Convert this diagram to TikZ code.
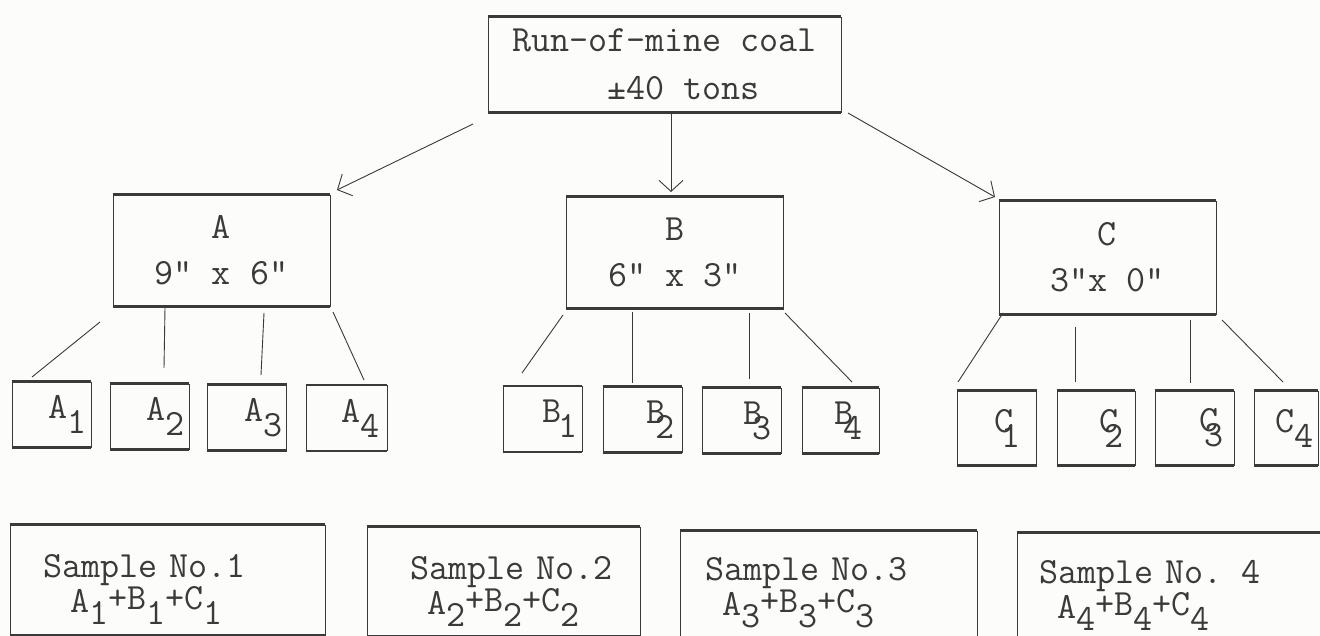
\documentclass[tikz,border=0pt]{standalone}
\usepackage{fontspec}
\usetikzlibrary{arrows.meta}
\definecolor{ink}{HTML}{3A3A3A}
\definecolor{paper}{HTML}{FCFCFA}
\newcommand{\dn}[1]{\raisebox{-15pt}{#1}}
\newcommand{\sdn}[1]{\raisebox{-12pt}{#1}}
\newcommand{\upr}[1]{\raisebox{3pt}{#1}}
\begin{document}
\begin{tikzpicture}[x=1pt,y=-1pt,
  tt/.style={font=\ttfamily\fontsize{37}{46}\selectfont, text=ink},
  box/.style={tt, draw=ink, line width=0.9pt, inner sep=0pt},
  topbox/.style={box, minimum width=353pt, minimum height=95pt, align=left, font=\ttfamily\fontsize{37}{48}\selectfont},
  bigbox/.style={box, minimum width=217pt, minimum height=111pt, align=center},
  smallbox/.style={box, minimum width=#1, minimum height=65pt, text width=#1-8pt, inner xsep=4pt, align=right},
  smallbox/.default=79pt,
  samplebox/.style={box, text width=#1, align=left, font=\ttfamily\fontsize{37}{35}\selectfont},
  hedge/.style={draw=ink, line width=2.2pt},
  link/.style={draw=ink, line width=0.9pt},
  arr/.style={draw=ink, line width=0.9pt, -{Straight Barb[length=11pt,width=24pt]}}
]
\path[use as bounding box] (0,0) rectangle (1320,636);
\clip (0,0) rectangle (1320,636);
\fill[paper] (0,0) rectangle (1320,636);

% top
\node[topbox] (top) at (664.5,64.5) {Run-of-mine coal\\\phantom{Run-o}±40 tons};

% size fractions
\node[bigbox] (A) at (221.5,250.5) {A\\9" x 6"};
\node[bigbox] (B) at (675,252.5) {B\\6" x 3"};
\node[bigbox, minimum height=113pt] (C) at (1107.5,257.5) {C\\3"x 0"};

% increments
\node[smallbox] (A1) at (51.5,414.5) {A\dn{1}};
\node[smallbox] (A2) at (149.5,416.5) {A\dn{2}};
\node[smallbox] (A3) at (247,417.5) {A\dn{3}};
\node[smallbox=81pt] (A4) at (346.5,418) {A\dn{4}\hspace*{3pt}};
\node[smallbox] (B1) at (542.5,419) {B\kern-3pt\dn{1}};
\node[smallbox] (B2) at (642.5,419.5) {B\kern-10pt\dn{2}\hspace*{3pt}};
\node[smallbox] (B3) at (741.5,420.5) {B\kern-10pt\dn{3}\hspace*{5pt}};
\node[smallbox=77pt] (B4) at (840.5,420.5) {B\kern-10pt\dn{4}\hspace*{12pt}};
\node[smallbox, minimum height=74pt] (C1) at (997,428) {C\kern-12pt\dn{1}\hspace*{12pt}};
\node[smallbox=78pt, minimum height=74pt] (C2) at (1096,428) {C\kern-14pt\dn{2}\hspace*{7pt}};
\node[smallbox, minimum height=74pt] (C3) at (1194.5,428) {C\kern-14pt\dn{3}\hspace*{6pt}};
\node[smallbox=64pt, minimum height=74pt] (C4) at (1286,428) {C\dn{4}};

% samples
\node[samplebox=315pt, minimum height=110pt] (S1) at (167.5,580)
  {\rule{0pt}{42pt}\hspace*{33pt}Sample No.1\\\hspace*{60pt}A\sdn{1}\upr{+B}\sdn{1}\upr{+C}\sdn{1}};
\node[samplebox=273pt, minimum height=109pt] (S2) at (503.5,581.5)
  {\rule{0pt}{42pt}\hspace*{43pt}Sample No.2\\\hspace*{60pt}A\sdn{2}\upr{+B}\sdn{2}\upr{+C}\sdn{2}};
\node[samplebox=297pt, minimum height=105pt] (S3) at (828.5,583.5)
  {\rule{0pt}{42pt}\hspace*{25pt}Sample No.3\\\hspace*{42pt}A\sdn{3}\upr{+B}\sdn{3}\upr{+C}\sdn{3}};
\node[samplebox=313pt, minimum height=105pt] (S4) at (1173.5,585.5)
  {\rule{0pt}{42pt}\hspace*{22pt}Sample No. 4\\\hspace*{40pt}A\sdn{4}\upr{+B}\sdn{4}\upr{+C}\sdn{4}};

% thick typed horizontal edges
\foreach \n in {top,A,B,C,A1,A2,A3,A4,B1,B2,B3,B4,C1,C2,C3,C4,S1,S2}{
  \draw[hedge] (\n.north west) -- (\n.north east);
  \draw[hedge] (\n.south west) -- (\n.south east);
}
\foreach \n in {S3,S4}{
  \draw[hedge] (\n.north west) -- (\n.north east);
}

% arrows from the run-of-mine box
\coordinate (tl) at (473,124);  \coordinate (ta) at (337,190);
\coordinate (tm) at (671,112);  \coordinate (tb) at (671,192);
\coordinate (tr) at (848,113);  \coordinate (tc) at (995,197);
\draw[arr] (tl) -- (ta);
\draw[arr] (tm) -- (tb);
\draw[arr] (tr) -- (tc);

% split lines
\coordinate (a1o) at (100,322); \coordinate (a1i) at (32,377);
\coordinate (a2o) at (165,308); \coordinate (a2i) at (164,368);
\coordinate (a3o) at (264,313); \coordinate (a3i) at (261,375);
\coordinate (a4o) at (333,312); \coordinate (a4i) at (364,380);
\coordinate (b1o) at (563,315); \coordinate (b1i) at (522,373);
\coordinate (b2o) at (632,312); \coordinate (b2i) at (632,383);
\coordinate (b3o) at (749,313); \coordinate (b3i) at (749,379);
\coordinate (b4o) at (785,313); \coordinate (b4i) at (852,382);
\coordinate (c1o) at (1003,313); \coordinate (c1i) at (958,382);
\coordinate (c2o) at (1075,327); \coordinate (c2i) at (1075,382);
\coordinate (c3o) at (1190,320); \coordinate (c3i) at (1190,383);
\coordinate (c4o) at (1222,320); \coordinate (c4i) at (1283,382);
\foreach \p in {a,b,c}{
  \foreach \k in {1,2,3,4}{
    \draw[link] (\p\k o) -- (\p\k i);
  }
}
\end{tikzpicture}
\end{document}
